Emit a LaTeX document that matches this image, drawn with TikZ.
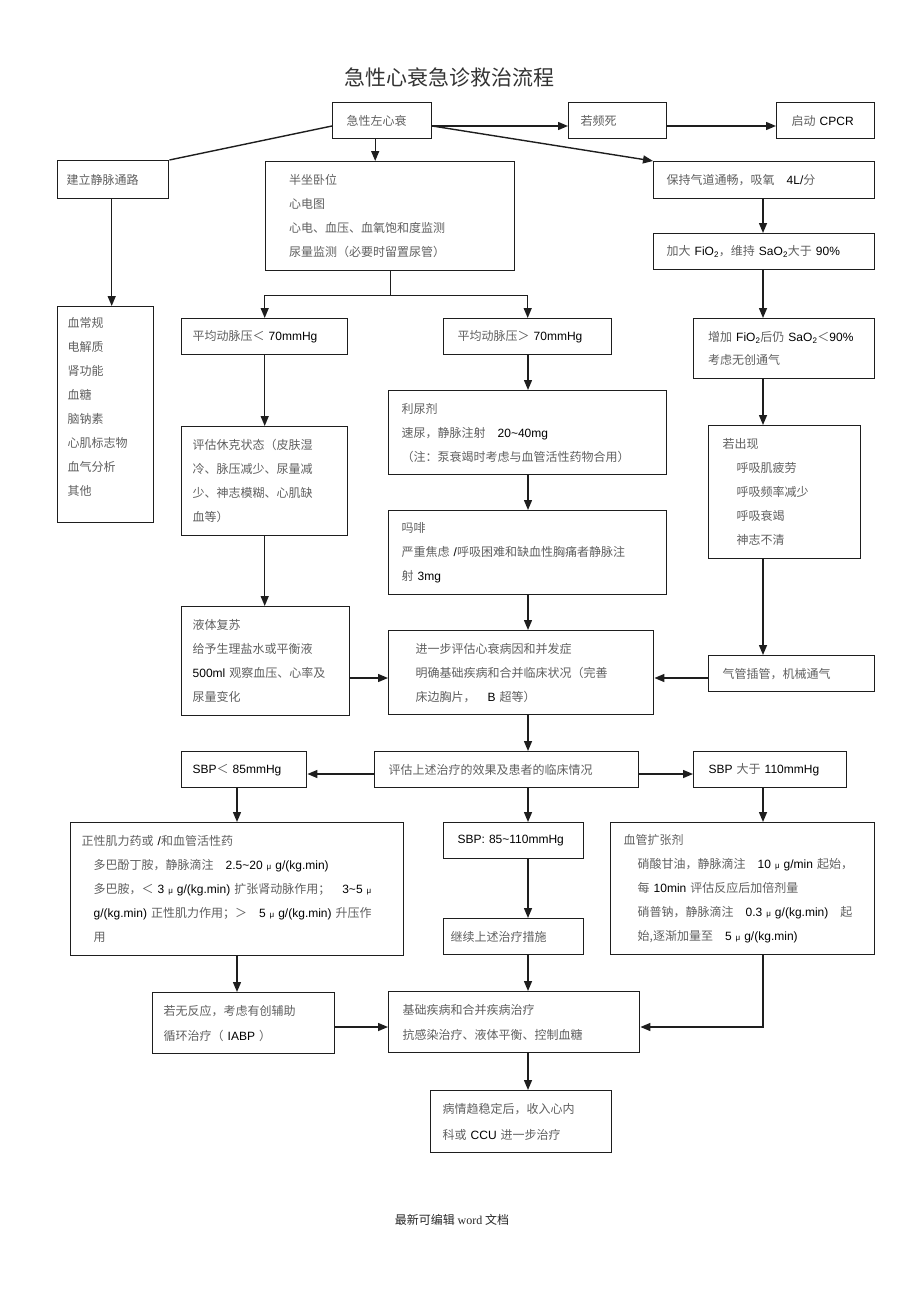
\documentclass[tikz,border=0pt]{standalone}
\usepackage{fontspec}
\usepackage{xcolor}
\usepackage{tikz}
\newfontfamily\cjk{Noto Sans CJK SC}
\newfontfamily\latinfont{Liberation Sans}
\newfontfamily\serifen{Liberation Serif}
\definecolor{boxline}{RGB}{30,30,30}
\definecolor{cjkgray}{RGB}{95,95,95}
\usetikzlibrary{arrows.meta,positioning}
\newcommand\lat[1]{{\latinfont\color{black}#1}}
\newcommand\mug{{\latinfont\fontsize{8}{8}\selectfont μ}}

\begin{document}
\begin{tikzpicture}[
    x=1pt, y=-1pt,
    box/.style={draw=boxline, line width=1.4pt, anchor=north west, align=left, inner ysep=0pt, text=cjkgray, font=\cjk\fontsize{12}{24}\selectfont},
    arrow/.style={-{Triangle[length=10pt,width=8pt]}, line width=1.4pt, draw=boxline},
    link/.style={line width=1.4pt, draw=boxline}
]
\useasboundingbox (0,0) rectangle (920,1303);

\node[font=\cjk\fontsize{21}{21}\selectfont, text=black!80] (title) at (449,77) {急性心衰急诊救治流程};

\node[box, text width=71pt, inner xsep=14pt, minimum height=36pt] (start) at (332,102) {急性左心衰};
\node[box, text width=74pt, inner xsep=12pt, minimum height=36pt] (arrest) at (568,102) {若频死};
\node[box, text width=68pt, inner xsep=15pt, minimum height=36pt] (cpcr) at (776,102) {启动 \lat{CPCR}};
\node[box, text width=93pt, inner xsep=9pt, minimum height=38pt] (vein) at (57,160) {建立静脉通路};
\node[box, text width=202pt, inner xsep=23.5pt, minimum height=109pt] (posture) at (265,161) {半坐卧位\\心电图\\心电、血压、血氧饱和度监测\\尿量监测（必要时留置尿管）};
\node[box, text width=195pt, inner xsep=13pt, minimum height=37pt] (oxygen) at (653,161) {保持气道通畅，吸氧\quad\lat{4L/}分};
\node[box, text width=195pt, inner xsep=13pt, minimum height=36pt] (fio) at (653,233) {加大 \lat{FiO\textsubscript{2}}，维持 \lat{SaO\textsubscript{2}}大于 \lat{90\%}};
\node[box, text width=76pt, inner xsep=10pt, minimum height=216pt] (labs) at (57,306) {血常规\\电解质\\肾功能\\血糖\\脑钠素\\心肌标志物\\血气分析\\其他\\[-7.6pt]\mbox{}};
\node[box, text width=144pt, inner xsep=11pt, minimum height=36pt] (lowmap) at (181,318) {平均动脉压＜ \lat{70mmHg}};
\node[box, text width=140pt, inner xsep=14pt, minimum height=36pt] (highmap) at (443,318) {平均动脉压＞ \lat{70mmHg}};
\node[box, text width=152pt, inner xsep=14.5pt, minimum height=60pt, font=\cjk\fontsize{12}{23}\selectfont] (niv) at (693,318) {增加 \lat{FiO\textsubscript{2}}后仍 \lat{SaO\textsubscript{2}}＜\lat{90\%}\\考虑无创通气};
\node[box, text width=144pt, inner xsep=11pt, minimum height=109pt] (shock) at (181,426) {评估休克状态（皮肤湿\\冷、脉压减少、尿量减\\少、神志模糊、心肌缺\\血等）};
\node[box, text width=252pt, inner xsep=13pt, minimum height=84pt] (diuretic) at (388,390) {利尿剂\\速尿，静脉注射\quad\lat{20\textasciitilde40mg}\\（注：泵衰竭时考虑与血管活性药物合用）};
\node[box, text width=124pt, inner xsep=14pt, minimum height=133pt] (resp) at (708,425) {若出现\\\hspace*{14pt}呼吸肌疲劳\\\hspace*{14pt}呼吸频率减少\\\hspace*{14pt}呼吸衰竭\\\hspace*{14pt}神志不清};
\node[box, text width=252pt, inner xsep=13pt, minimum height=84pt] (morphine) at (388,510) {吗啡\\严重焦虑 \lat{/}呼吸困难和缺血性胸痛者静脉注\\射 \lat{3mg}};
\node[box, text width=146pt, inner xsep=11pt, minimum height=109pt] (fluid) at (181,606) {液体复苏\\给予生理盐水或平衡液\\\lat{500ml} 观察血压、心率及\\尿量变化};
\node[box, text width=211pt, inner xsep=27pt, minimum height=84pt] (further) at (388,630) {进一步评估心衰病因和并发症\\明确基础疾病和合并临床状况（完善\\床边胸片，\quad\lat{B} 超等）};
\node[box, text width=138pt, inner xsep=14pt, minimum height=36pt] (intub) at (708,655) {气管插管，机械通气};
\node[box, text width=236pt, inner xsep=14pt, minimum height=36pt] (evalall) at (374,751) {评估上述治疗的效果及患者的临床情况};
\node[box, text width=103pt, inner xsep=11pt, minimum height=36pt] (sbplow) at (181,751) {\lat{SBP}＜ \lat{85mmHg}};
\node[box, text width=123pt, inner xsep=15pt, minimum height=36pt] (sbphigh) at (693,751) {\lat{SBP} 大于 \lat{110mmHg}};
\node[box, text width=311pt, inner xsep=11pt, minimum height=133pt] (inotrope) at (70,822) {正性肌力药或 \lat{/}和血管活性药\\
  \hspace*{12pt}多巴酚丁胺，静脉滴注\quad\lat{2.5\textasciitilde20 \mug\ g/(kg.min)}\\
  \hspace*{12pt}多巴胺，＜ \lat{3 \mug\ g/(kg.min)} 扩张肾动脉作用；\quad\lat{3\textasciitilde5 \mug}\\
  \hspace*{12pt}\lat{g/(kg.min)} 正性肌力作用；＞\quad\lat{5 \mug\ g/(kg.min)} 升压作\\
  \hspace*{12pt}用};
\node[box, text width=112pt, inner xsep=14pt, minimum height=36pt] (sbpmid) at (443,822) {\lat{SBP: 85\textasciitilde110mmHg}};
\node[box, text width=126pt, inner xsep=7pt, minimum height=36pt] (keep) at (443,918) {继续上述治疗措施};
\node[box, text width=238pt, inner xsep=13pt, minimum height=132pt] (vasodil) at (610,822) {血管扩张剂\\
  \hspace*{14pt}硝酸甘油，静脉滴注\quad\lat{10 \mug\ g/min} 起始，\\
  \hspace*{14pt}每 \lat{10min} 评估反应后加倍剂量\\
  \hspace*{14pt}硝普钠，静脉滴注\quad\lat{0.3 \mug\ g/(kg.min)}\quad 起\\
  \hspace*{14pt}始,逐渐加量至\quad\lat{5 \mug\ g/(kg.min)}};
\node[box, text width=160pt, inner xsep=11pt, minimum height=61pt, font=\cjk\fontsize{12}{25}\selectfont] (iabp) at (152,992) {若无反应，考虑有创辅助\\循环治疗（ \lat{IABP} ）};
\node[box, text width=223pt, inner xsep=14pt, minimum height=61pt, font=\cjk\fontsize{12}{25}\selectfont] (basic) at (388,991) {基础疾病和合并疾病治疗\\抗感染治疗、液体平衡、控制血糖};
\node[box, text width=157pt, inner xsep=12pt, minimum height=62pt, font=\cjk\fontsize{12}{26}\selectfont] (ccu) at (430,1090) {病情趋稳定后，收入心内\\科或 \lat{CCU} 进一步治疗};
\node[font=\cjk\fontsize{12}{12}\selectfont, text=black!85] (footer) at (452,1220) {最新可编辑 {\serifen word} 文档};

\coordinate (lcol) at (237,0);
\coordinate (mcol) at (528,0);
\coordinate (rcol) at (763,0);
\coordinate (toprow) at (0,126);
\coordinate (mrow) at (0,678);
\coordinate (srow) at (0,774);
\coordinate (brow) at (0,1027);

\draw[arrow] (start.east |- toprow) -- (arrest.west |- toprow);
\draw[arrow] (arrest.east |- toprow) -- (cpcr.west |- toprow);
\draw[link] (start.west |- toprow) -- (vein.north east);
\draw[arrow] ([xshift=-7pt]start.south) -- ([xshift=-7pt]start.south |- posture.north);
\draw[arrow] (start.east |- toprow) -- (oxygen.north west);
\draw[arrow] ([xshift=-1.5pt]vein.south) -- ([xshift=-1.5pt]vein.south |- labs.north);
\draw[arrow] (oxygen.south -| rcol) -- (fio.north -| rcol);
\draw[arrow] (posture.south) -- ++(0,24) -| (lowmap.north);
\draw[arrow] (posture.south) -- ++(0,24) -| (highmap.north);
\draw[arrow] (lowmap.south) -- (shock.north);
\draw[arrow] (shock.south) -- (shock.south |- fluid.north);
\draw[arrow] (highmap.south -| mcol) -- (diuretic.north -| mcol);
\draw[arrow] (diuretic.south -| mcol) -- (morphine.north -| mcol);
\draw[arrow] (morphine.south -| mcol) -- (further.north -| mcol);
\draw[arrow] (fio.south -| rcol) -- (niv.north -| rcol);
\draw[arrow] (niv.south -| rcol) -- (resp.north -| rcol);
\draw[arrow] (resp.south -| rcol) -- (intub.north -| rcol);
\draw[arrow] (fluid.east |- mrow) -- (further.west |- mrow);
\draw[arrow] (intub.west |- mrow) -- (further.east |- mrow);
\draw[arrow] (further.south -| mcol) -- (evalall.north -| mcol);
\draw[arrow] (evalall.west |- srow) -- (sbplow.east |- srow);
\draw[arrow] (evalall.east |- srow) -- (sbphigh.west |- srow);
\draw[arrow] (evalall.south -| mcol) -- (sbpmid.north -| mcol);
\draw[arrow] (sbplow.south -| lcol) -- (inotrope.north -| lcol);
\draw[arrow] (sbphigh.south -| rcol) -- (vasodil.north -| rcol);
\draw[arrow] (sbpmid.south -| mcol) -- (keep.north -| mcol);
\draw[arrow] (inotrope.south -| lcol) -- (iabp.north -| lcol);
\draw[arrow] (keep.south -| mcol) -- (basic.north -| mcol);
\draw[arrow] (iabp.east |- brow) -- (basic.west |- brow);
\draw[arrow] (vasodil.south -| rcol) |- (basic.east |- brow);
\draw[arrow] (basic.south -| mcol) -- (ccu.north -| mcol);

\end{tikzpicture}
\end{document}
